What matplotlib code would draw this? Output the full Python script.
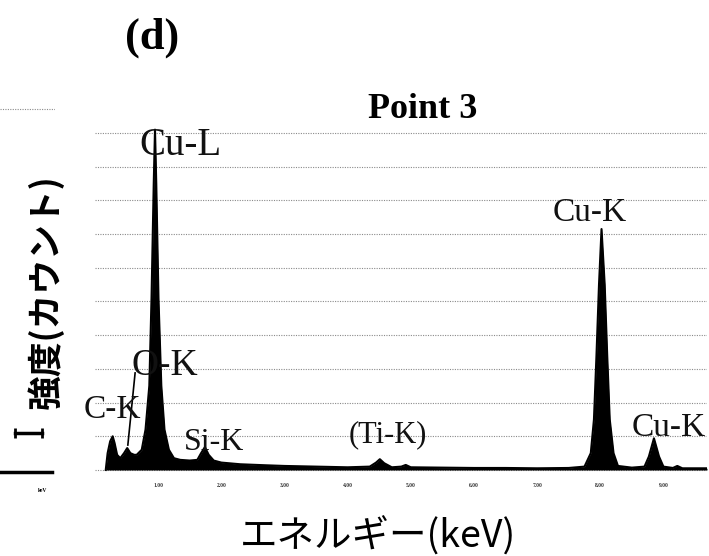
import matplotlib
matplotlib.use("Agg")
import matplotlib.pyplot as plt

# ---------------- data ----------------
energy_kev = [0.17, 0.20, 0.24, 0.28, 0.31, 0.35, 0.40, 0.46, 0.51, 0.56, 0.62, 0.66, 0.74,
              0.80, 0.86, 0.895, 0.93, 0.95, 0.97, 1.005, 1.05, 1.10, 1.17, 1.25, 1.35,
              1.50, 1.62, 1.68, 1.74, 1.80, 1.88, 2.00, 2.30, 2.70, 3.00, 3.50, 4.00,
              4.35, 4.45, 4.51, 4.58, 4.70, 4.85, 4.92, 5.00, 5.50, 6.00, 6.50, 7.00,
              7.50, 7.75, 7.85, 7.90, 7.94, 7.98, 8.02, 8.07, 8.11, 8.15, 8.21, 8.28,
              8.50, 8.70, 8.77, 8.85, 8.93, 9.00, 9.15, 9.22, 9.30, 9.69]
counts = [0.00, 0.50, 0.85, 1.00, 0.80, 0.45, 0.35, 0.50, 0.65, 0.50, 0.45, 0.45, 0.60,
          1.20, 2.50, 5.10, 8.50, 10.10, 8.50, 5.10, 2.50, 1.20, 0.60, 0.35, 0.30,
          0.28, 0.30, 0.50, 0.68, 0.45, 0.28, 0.22, 0.17, 0.14, 0.12, 0.10, 0.08,
          0.10, 0.22, 0.32, 0.20, 0.08, 0.10, 0.15, 0.08, 0.07, 0.06, 0.06, 0.05,
          0.06, 0.10, 0.50, 1.50, 3.40, 5.50, 7.15, 5.50, 3.40, 1.50, 0.50, 0.12,
          0.07, 0.10, 0.40, 0.94, 0.40, 0.10, 0.06, 0.12, 0.05, 0.05]

tick_kev = [1, 2, 3, 4, 5, 6, 7, 8, 9]
tick_labels = ["1.00", "2.00", "3.00", "4.00", "5.00", "6.00", "7.00", "8.00", "9.00"]
grid_levels = [0, 1, 2, 3, 4, 5, 6, 7, 8, 9, 10]

peak_names = ["Cu-L", "O-K", "C-K", "Si-K", "(Ti-K)", "Cu-K", "Cu-K"]
peak_label_x = [1.35, 1.10, 0.73, 1.89, 4.64, 7.84, 9.08]
peak_label_y = [9.35, 2.82, 1.54, 0.59, 0.83, 7.39, 1.00]
peak_label_size = [28, 27, 24, 23, 22, 24, 24]
peak_label_ha = ["center", "center", "right", "center", "center", "center", "center"]

ok_leader_x = [0.635, 0.52]
ok_leader_y = [2.88, 0.74]

# neighbouring (cropped) panel on the left
left_grid_y = [10.71]
left_base_x = [0, 52]
left_base_y = [-0.05, -0.05]
left_bar_x = [15, 42]
left_bar_y = [1.10, 1.10]

W, H = 709, 556
fig = plt.figure(figsize=(W / 100, H / 100), dpi=100)

def fx(x):
    return x / W

def fy(y):
    return 1 - y / H

serif = "Liberation Serif"
jp = "Noto Sans CJK JP"

# ---------------- main spectrum axes ----------------
ax = fig.add_axes([fx(95), fy(480.1), fx(707) - fx(95), (480.1 - 99.3) / H])
ax.set_xlim(0, 9.69)
ax.set_ylim(-0.3, 11.0)
for lv in grid_levels:
    ax.axhline(lv, color="#8a8a8a", lw=0.8, ls=(0, (1, 1.2)), zorder=1)
ax.fill_between(energy_kev, 0, counts, color="black", lw=0, zorder=3)
ax.plot(energy_kev, counts, color="black", lw=1.5, zorder=4)
ax.plot(ok_leader_x, ok_leader_y, color="black", lw=1.2, zorder=5)

for name, x, y, s, ha in zip(peak_names, peak_label_x, peak_label_y, peak_label_size, peak_label_ha):
    ax.text(x, y, name, ha=ha, va="baseline", fontsize=s, family=serif, color="#111111", zorder=6)

ax.set_xticks(tick_kev)
ax.set_xticklabels(tick_labels, fontsize=4, color="#333333", family=serif, fontweight="bold")
ax.tick_params(axis="x", length=0, pad=2)
ax.set_yticks([])
for sp in ax.spines.values():
    sp.set_visible(False)

# ---------------- left cropped panel ----------------
axl = fig.add_axes([0, fy(480.1), fx(55), (480.1 - 99.3) / H])
axl.set_xlim(0, 55)
axl.set_ylim(-0.3, 11.0)
for lv in left_grid_y:
    axl.axhline(lv, color="#8a8a8a", lw=0.8, ls=(0, (1, 1.2)))
axl.plot(left_base_x, left_base_y, color="black", lw=2.5)
axl.plot(left_bar_x, left_bar_y, color="black", lw=2.5, marker="|", ms=7, mew=2)
axl.axis("off")
fig.text(fx(43), fy(490), "keV", fontsize=4, fontweight="bold", ha="center", va="center", family=serif)

# ---------------- titles and axis labels ----------------
fig.text(fx(152), fy(38), "(d)", fontsize=32, fontweight="bold", family=serif, ha="center", va="center")
fig.text(fx(423), fy(110), "Point 3", fontsize=26, fontweight="bold", family=serif, ha="center", va="center")
fig.text(fx(45), fy(292), "強度(カウント)", fontsize=25, fontweight="bold", family=[jp, "DejaVu Sans"],
         rotation=90, ha="center", va="center")
fig.text(fx(378), fy(537), "エネルギー(keV)", fontsize=27, family=[jp, "DejaVu Sans"],
         ha="center", va="center")

fig.savefig("out.png", dpi=100, facecolor="white")
